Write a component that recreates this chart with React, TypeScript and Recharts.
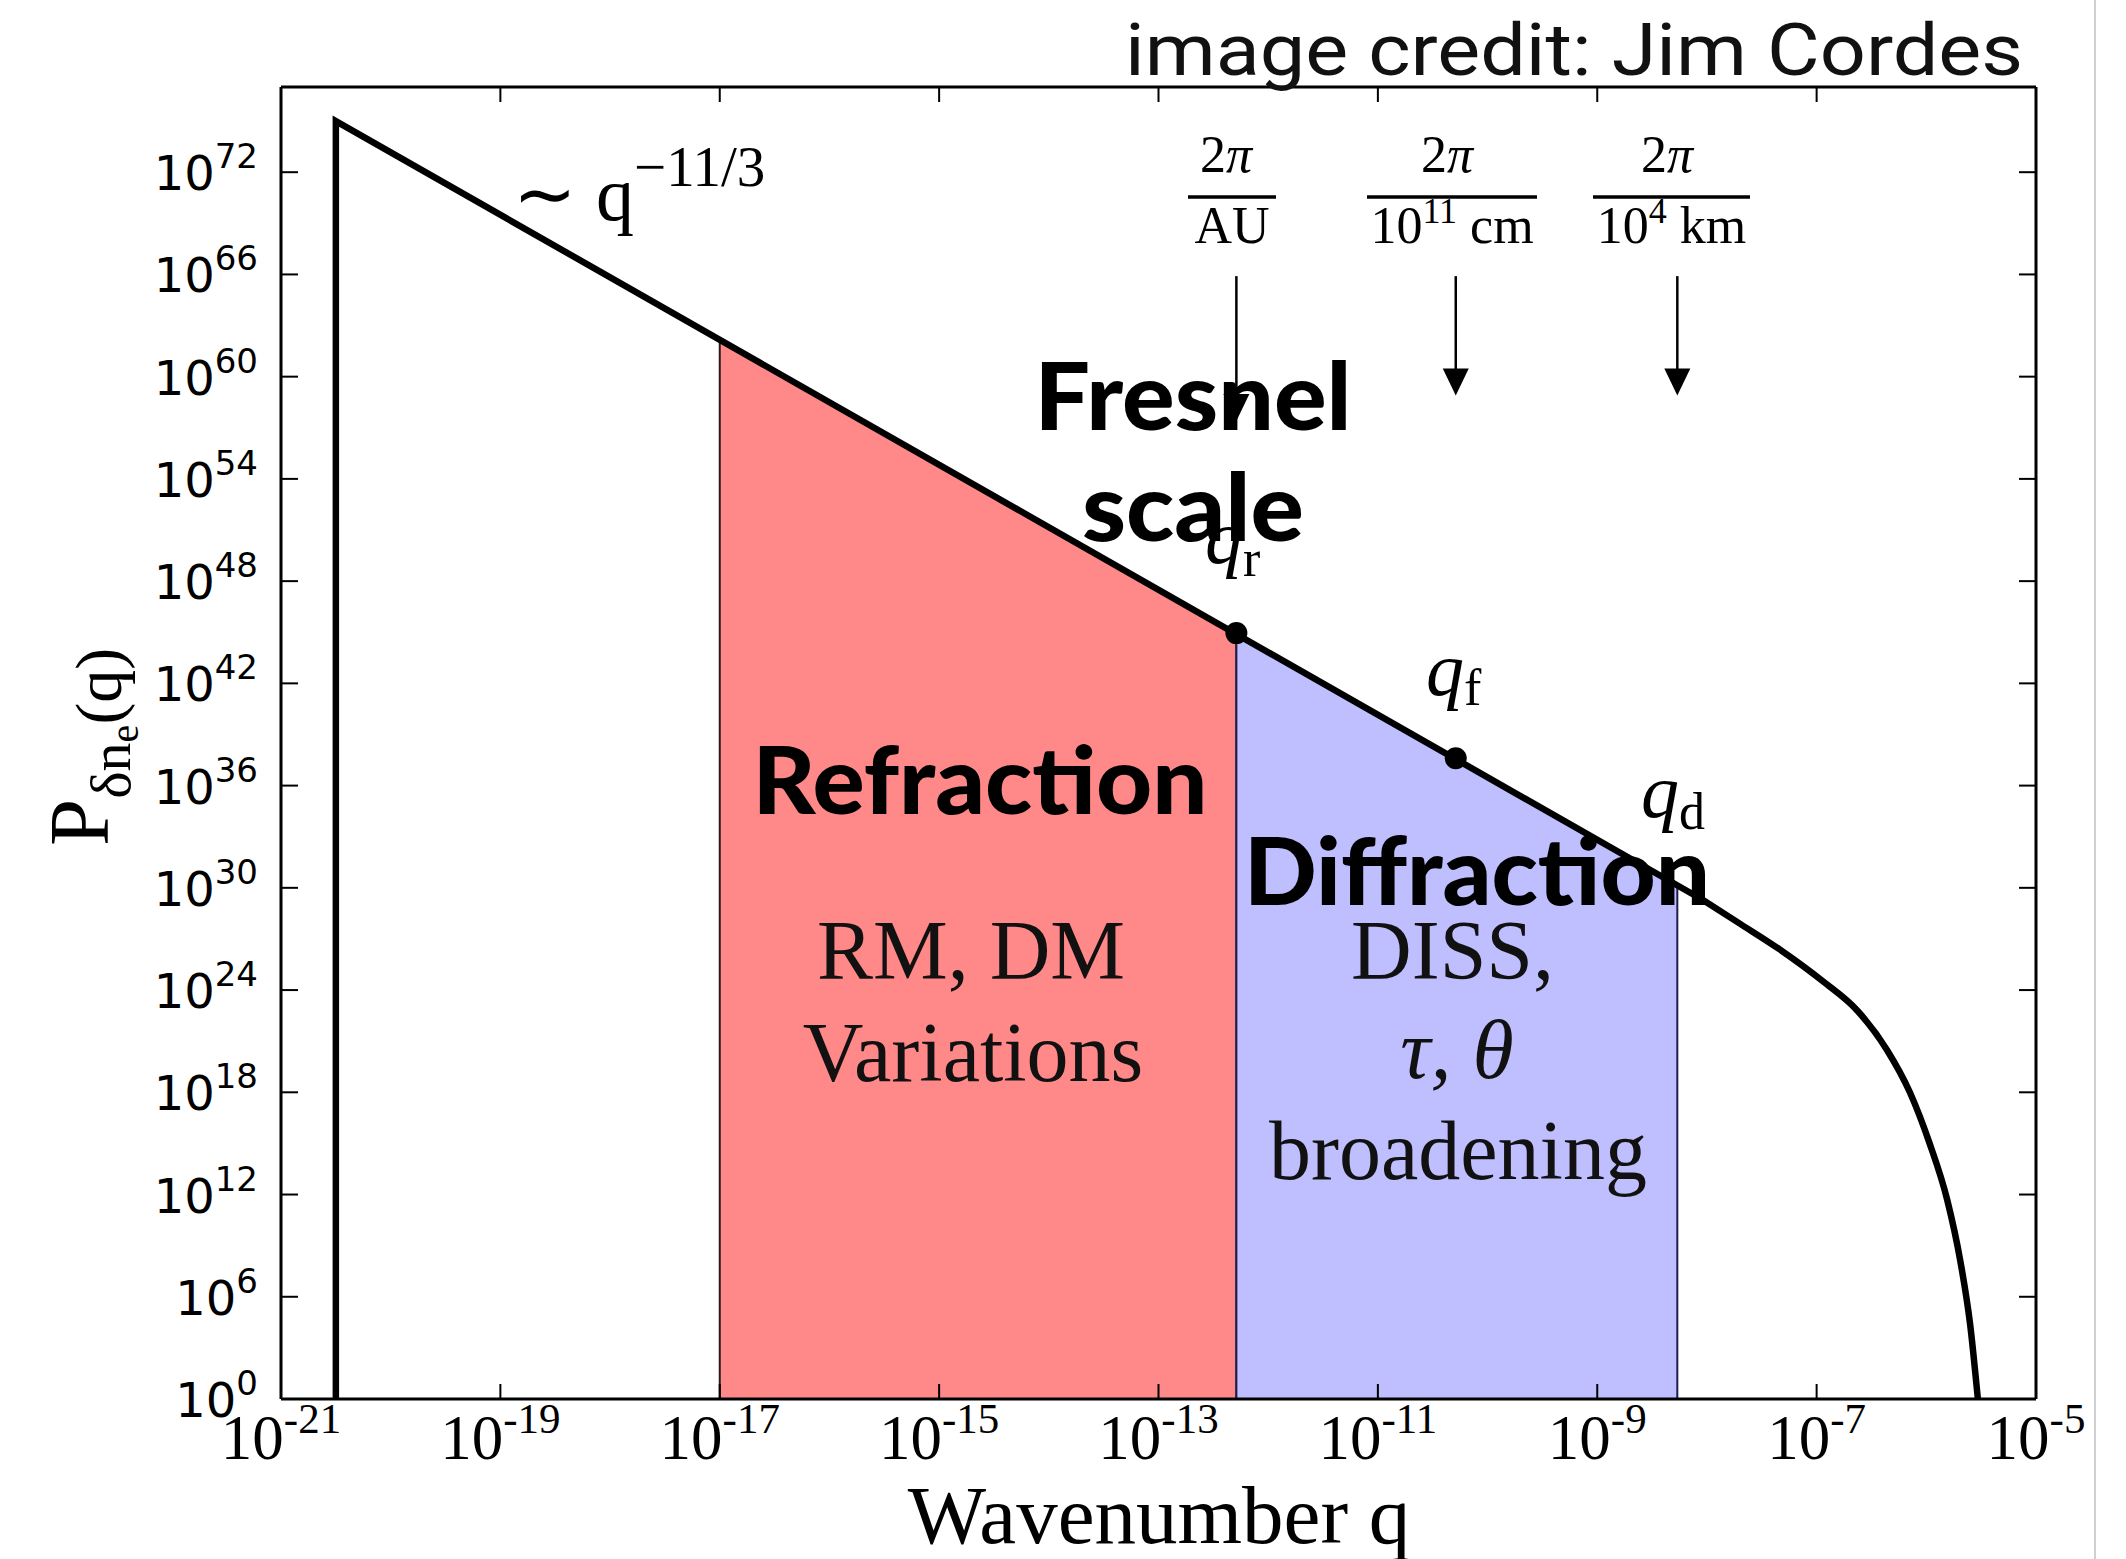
import React from "react";
import {
  ComposedChart,
  Line,
  Area,
  Scatter,
  XAxis,
  YAxis,
  ReferenceLine,
} from "recharts";

// everything is in log10 units: x = log10(q), y = log10(P)
const powerLawLogQ = [-20.5, -20.5, -8.04];
const powerLawLogP = [0, 75, 29.3];

const tailLogQ = [-8.04, -7.7, -7.34, -6.94, -6.63, -6.36, -6.15, -5.97, -5.81, -5.69, -5.6, -5.53];
const tailLogP = [29.3, 27.9, 26.4, 24.5, 22.8, 20.5, 18.0, 15.0, 11.7, 8.1, 4.35, 0];

const refractionLogQ = [-17, -17, -12.29, -12.29];
const refractionLogP = [0, 62.1, 44.95, 0];

const diffractionLogQ = [-12.29, -12.29, -8.27, -8.27];
const diffractionLogP = [0, 44.95, 30.2, 0];

const markerLogQ = [-12.29, -10.29];
const markerLogP = [44.95, 37.6];

const arrowLogQ = [-12.29, -10.29, -8.27];
const arrowTopLogP = [65.9, 65.9, 65.9];
const arrowTipLogP = [57.4, 58.9, 58.9];

const xTicks = [-21, -19, -17, -15, -13, -11, -9, -7, -5];
const yTicks = [0, 6, 12, 18, 24, 30, 36, 42, 48, 54, 60, 66, 72];

const pts = (xs: number[], ys: number[]) => xs.map((x, i) => ({ x, y: ys[i] }));

const powerLaw = pts(powerLawLogQ, powerLawLogP);
const tail = pts(tailLogQ, tailLogP);
const refraction = pts(refractionLogQ, refractionLogP);
const diffraction = pts(diffractionLogQ, diffractionLogP);
const markers = pts(markerLogQ, markerLogP);

const SERIF = "'Liberation Serif', 'Times New Roman', serif";
const SANS = "'DejaVu Sans', sans-serif";
const HEAVY = "Lato, Inter, 'Noto Sans', sans-serif";

const BottomTick = (props: any) => {
  const { x, y, payload } = props;
  return (
    <g>
      <line x1={x} y1={y} x2={x} y2={y - 15} stroke="#000" strokeWidth={2} />
      <text x={x} y={y + 60} textAnchor="middle" fontFamily={SERIF} fontSize={63} fill="#000">
        <tspan>10</tspan>
        <tspan dy={-26} fontSize={43}>{String(payload.value)}</tspan>
      </text>
    </g>
  );
};

const TopTick = (props: any) => {
  const { x, y } = props;
  return <line x1={x} y1={y} x2={x} y2={y + 15} stroke="#000" strokeWidth={2} />;
};

const LeftTick = (props: any) => {
  const { x, y, payload } = props;
  return (
    <g>
      <line x1={x} y1={y} x2={x + 17} y2={y} stroke="#000" strokeWidth={2} />
      <text x={x - 23} y={y + 18} textAnchor="end" fontFamily={SANS} fontSize={48} fill="#000">
        <tspan>10</tspan>
        <tspan dy={-22} fontSize={34}>{String(payload.value)}</tspan>
      </text>
    </g>
  );
};

const RightTick = (props: any) => {
  const { x, y } = props;
  return <line x1={x} y1={y} x2={x - 17} y2={y} stroke="#000" strokeWidth={2} />;
};

const Arrow = (props: any) => {
  const { x1, y1, x2, y2 } = props;
  return (
    <g>
      <line x1={x1} y1={y1} x2={x2} y2={y2 - 26} stroke="#000" strokeWidth={2.5} />
      <polygon points={`${x2 - 13},${y2 - 27} ${x2 + 13},${y2 - 27} ${x2},${y2}`} fill="#000" />
    </g>
  );
};

const Dot = (props: any) => <circle cx={props.cx} cy={props.cy} r={11} fill="#000" />;

const Frac = ({ cx, bar, den }: { cx: number; bar: [number, number]; den: React.ReactNode }) => (
  <g fontFamily={SERIF} fontSize={52} fill="#000">
    <text x={cx} y={172} textAnchor="middle">
      2<tspan fontStyle="italic">π</tspan>
    </text>
    <line x1={bar[0]} y1={197} x2={bar[1]} y2={197} stroke="#000" strokeWidth={3.5} />
    <text x={(bar[0] + bar[1]) / 2} y={243} textAnchor="middle">
      {den}
    </text>
  </g>
);

const axisStroke = { stroke: "#000", strokeWidth: 3 };

export default function App() {
  return (
    <div style={{ position: "absolute", left: 0, top: 0, width: 2126, height: 1559, background: "#fff" }}>
      <ComposedChart width={2126} height={1559} margin={{ top: 86, right: 89, bottom: 0, left: 0 }}>
        <Area
          data={refraction}
          dataKey="y"
          type="linear"
          fill="#ff8888"
          fillOpacity={1}
          stroke="#2a1a1a"
          strokeWidth={2}
          dot={false}
          activeDot={false}
          isAnimationActive={false}
        />
        <Area
          data={diffraction}
          dataKey="y"
          type="linear"
          fill="#bfbfff"
          fillOpacity={1}
          stroke="#1c1c50"
          strokeWidth={2}
          dot={false}
          activeDot={false}
          isAnimationActive={false}
        />
        <Line
          data={powerLaw}
          dataKey="y"
          type="linear"
          stroke="#000"
          strokeWidth={6.5}
          strokeLinejoin="miter"
          dot={false}
          activeDot={false}
          isAnimationActive={false}
        />
        <Line
          data={tail}
          dataKey="y"
          type="monotoneX"
          stroke="#000"
          strokeWidth={6.5}
          dot={false}
          activeDot={false}
          isAnimationActive={false}
        />
        <Scatter data={markers} dataKey="y" shape={Dot} isAnimationActive={false} />
        {arrowLogQ.map((q, i) => (
          <ReferenceLine
            key={q}
            segment={[
              { x: q, y: arrowTopLogP[i] },
              { x: q, y: arrowTipLogP[i] },
            ]}
            stroke="#000"
            shape={Arrow}
            ifOverflow="visible"
          />
        ))}
        <XAxis
          dataKey="x"
          type="number"
          domain={[-21, -5]}
          allowDataOverflow
          ticks={xTicks}
          interval={0}
          height={160}
          tickSize={0}
          tickMargin={0}
          tickLine={false}
          axisLine={axisStroke}
          tick={BottomTick}
        />
        <XAxis
          xAxisId="top"
          orientation="top"
          dataKey="x"
          type="number"
          domain={[-21, -5]}
          allowDataOverflow
          ticks={xTicks}
          interval={0}
          height={1}
          tickSize={0}
          tickMargin={0}
          tickLine={false}
          axisLine={axisStroke}
          tick={TopTick}
        />
        <YAxis
          type="number"
          domain={[0, 77]}
          allowDataOverflow
          ticks={yTicks}
          interval={0}
          width={281}
          tickSize={0}
          tickMargin={0}
          tickLine={false}
          axisLine={axisStroke}
          tick={LeftTick}
        />
        <YAxis
          yAxisId="right"
          orientation="right"
          type="number"
          domain={[0, 77]}
          allowDataOverflow
          ticks={yTicks}
          interval={0}
          width={1}
          tickSize={0}
          tickMargin={0}
          tickLine={false}
          axisLine={axisStroke}
          tick={RightTick}
        />
      </ComposedChart>

      <svg
        width={2126}
        height={1559}
        style={{ position: "absolute", left: 0, top: 0, pointerEvents: "none" }}
      >
        <line x1={2095} y1={0} x2={2095} y2={1559} stroke="#d0d0d0" strokeWidth={2} />
        <text
          x={2023}
          y={75}
          textAnchor="end"
          fontFamily="Roboto, sans-serif"
          fontSize={72}
          fill="#111"
          textLength={898}
          lengthAdjust="spacingAndGlyphs"
        >
          image credit: Jim Cordes
        </text>

        <Frac cx={1226} bar={[1188, 1276]} den="AU" />
        <Frac
          cx={1447}
          bar={[1367, 1537]}
          den={
            <>
              10<tspan dy={-20} fontSize={36}>11</tspan>
              <tspan dy={20}> cm</tspan>
            </>
          }
        />
        <Frac
          cx={1667}
          bar={[1593, 1750]}
          den={
            <>
              10<tspan dy={-20} fontSize={36}>4</tspan>
              <tspan dy={20}> km</tspan>
            </>
          }
        />

        <text x={513} y={220} fontFamily={SERIF} fontSize={76} fill="#000">
          ∼ q<tspan dy={-34} fontSize={57}>−11/3</tspan>
        </text>

        <g fontFamily={SERIF} fill="#000">
          <text x={1205} y={563} fontSize={76} fontStyle="italic">
            q<tspan dy={13} fontSize={52} fontStyle="normal">r</tspan>
          </text>
          <text x={1426} y={695} fontSize={76} fontStyle="italic">
            q<tspan dy={10} fontSize={52} fontStyle="normal">f</tspan>
          </text>
          <text x={1641} y={817} fontSize={76} fontStyle="italic">
            q<tspan dy={12} fontSize={52} fontStyle="normal">d</tspan>
          </text>
        </g>

        <g fontFamily={HEAVY} fontWeight={900} fontSize={94} fill="#000" textAnchor="middle">
          <text x={1193} y={430} textLength={317} lengthAdjust="spacingAndGlyphs">Fresnel</text>
          <text x={1193} y={541} textLength={222} lengthAdjust="spacingAndGlyphs">scale</text>
          <text x={980} y={814} textLength={455} lengthAdjust="spacingAndGlyphs">Refraction</text>
          <text x={1477} y={905} textLength={466} lengthAdjust="spacingAndGlyphs">Diffraction</text>
        </g>

        <g fontFamily={SERIF} fontSize={84} fill="#111" textAnchor="middle">
          <text x={971} y={979}>RM, DM</text>
          <text x={973} y={1081}>Variations</text>
          <text x={1351} y={979} textAnchor="start">DISS,</text>
          <text x={1457} y={1078} fontStyle="italic">τ, θ</text>
          <text x={1458} y={1179}>broadening</text>
        </g>

        <text x={1159} y={1543} textAnchor="middle" fontFamily={SERIF} fontSize={83} fill="#000">
          Wavenumber q
        </text>
        <text transform="rotate(-90)" x={-846} y={108} fontFamily={SERIF} fontSize={85} fill="#000">
          P<tspan dy={22} fontSize={58}>δn</tspan>
          <tspan dy={8} fontSize={40}>e</tspan>
          <tspan dy={-17} fontSize={66}>(q)</tspan>
        </text>
      </svg>
    </div>
  );
}
